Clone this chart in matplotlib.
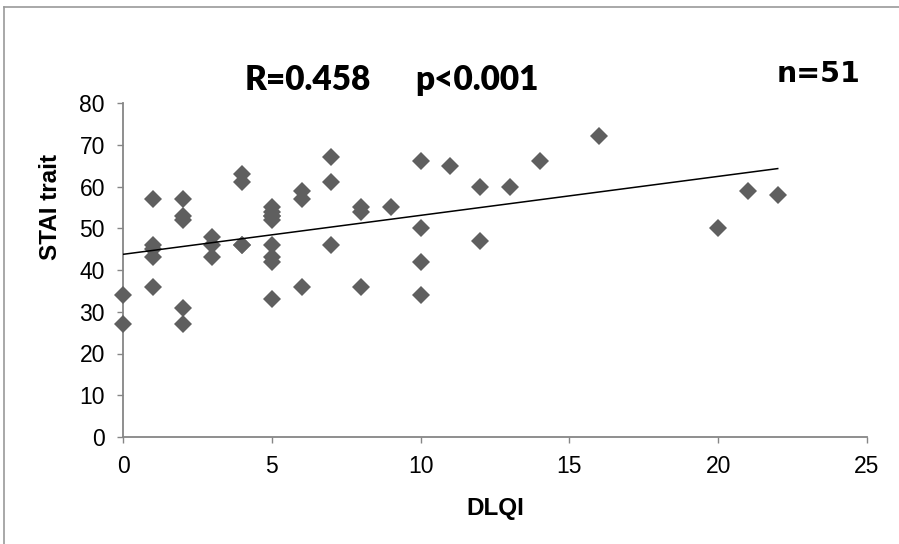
import matplotlib.pyplot as plt
import numpy as np
from matplotlib.lines import Line2D

# data (DLQI vs STAI trait, n=51)
dlqi = [0, 0,
        1, 1, 1, 1, 1,
        2, 2, 2, 2, 2,
        3, 3, 3,
        4, 4, 4, 4,
        5, 5, 5, 5, 5, 5, 5, 5, 5,
        6, 6, 6,
        7, 7, 7,
        8, 8, 8,
        9,
        10, 10, 10, 10,
        11,
        12, 12,
        13, 14, 16, 20, 21, 22]
stai = [34, 27,
        57, 46, 45, 43, 36,
        57, 53, 52, 31, 27,
        48, 46, 43,
        63, 61, 46, 46,
        55, 54, 53, 53, 52, 46, 43, 42, 33,
        59, 57, 36,
        67, 61, 46,
        55, 54, 36,
        55,
        66, 50, 42, 34,
        65,
        60, 47,
        60, 66, 72, 50, 59, 58]

x_ticks = [0, 5, 10, 15, 20, 25]
y_ticks = [0, 10, 20, 30, 40, 50, 60, 70, 80]

W, H = 899, 544
fig = plt.figure(figsize=(W / 100, H / 100), dpi=100)
ax = fig.add_axes([123 / W, 1 - 437 / H, 744 / W, 334 / H])

# scatter
ax.plot(dlqi, stai, linestyle='none', marker='D', markersize=9.5,
        color='#5f5f5f', markeredgewidth=0, clip_on=False, zorder=3)

# linear trend line
x = np.array(dlqi, dtype=float)
y = np.array(stai, dtype=float)
b, a = np.polyfit(x, y, 1)
xl = np.array([x.min(), x.max()])
ax.plot(xl, a + b * xl, color='black', linewidth=1.1, zorder=4)

ax.set_xlim(0, 25)
ax.set_ylim(0, 80)
ax.set_xticks(x_ticks)
ax.set_yticks(y_ticks)

for s in ['top', 'right']:
    ax.spines[s].set_visible(False)
for s in ['left', 'bottom']:
    ax.spines[s].set_color('#868686')
    ax.spines[s].set_linewidth(1.3)

ax.tick_params(axis='both', direction='out', length=4, width=1.0,
               color='#868686', labelsize=16.5, labelcolor='black')
ax.tick_params(axis='y', pad=9)
ax.tick_params(axis='x', pad=9)
for lab in ax.get_xticklabels() + ax.get_yticklabels():
    lab.set_family('Liberation Sans')

ax.set_xlabel('DLQI', fontsize=17.5, fontweight='bold', family='Liberation Sans')
ax.set_ylabel('STAI trait', fontsize=17.5, fontweight='bold', family='Liberation Sans')
ax.xaxis.set_label_coords(0.501, -0.18)
ax.yaxis.set_label_coords(-0.082, 0.689)

# annotations
fig.text(245 / W, 1 - 80 / H, 'R=0.458', fontsize=24, fontweight='heavy',
         family='Lato', va='center', ha='left')
fig.text(415 / W, 1 - 80 / H, 'p<0.001', fontsize=24, fontweight='heavy',
         family='Lato', va='center', ha='left')
fig.text(777 / W, 1 - 74 / H, 'n=51', fontsize=20.5, fontweight='bold',
         family='DejaVu Sans', va='center', ha='left')

# frame around chart (left and top edges visible)
fig.add_artist(Line2D([4 / W, 4 / W], [0, 1 - 7 / H], color='#9a9a9a', linewidth=1.2))
fig.add_artist(Line2D([4 / W, 1], [1 - 7 / H, 1 - 7 / H], color='#9a9a9a', linewidth=1.2))

fig.savefig('out.png', dpi=100)
